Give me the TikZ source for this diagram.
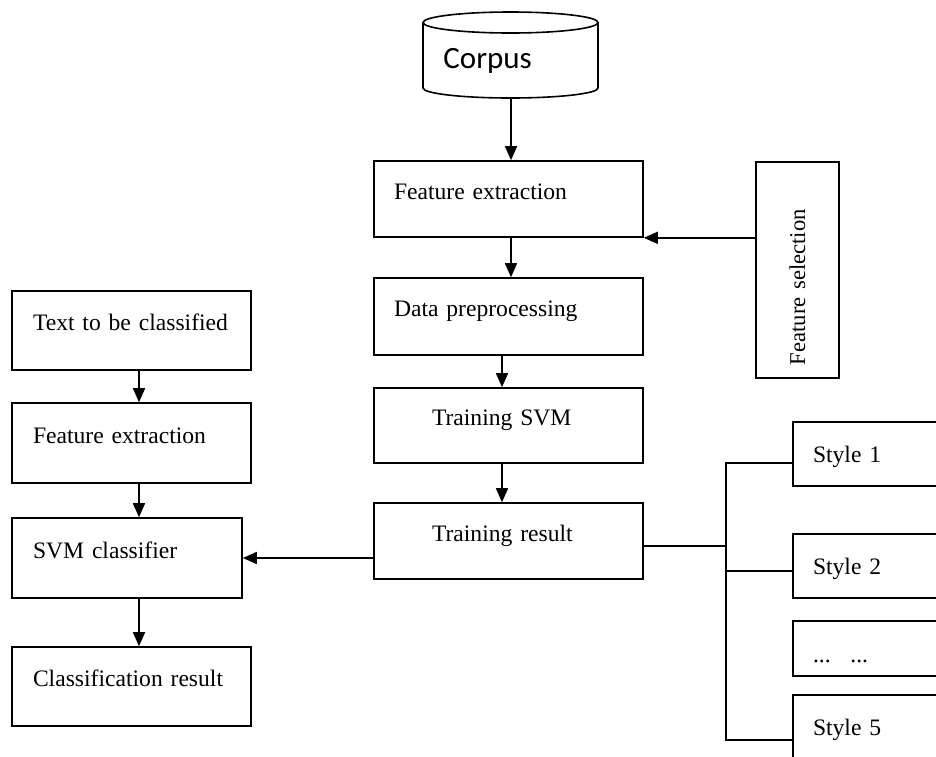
\documentclass[tikz,border=0pt]{standalone}
\usepackage{fontspec}
\setmainfont{Liberation Serif}
\newfontfamily\corpusfont{Carlito}
\usetikzlibrary{positioning,arrows.meta}
\tikzset{
stage/.style = {draw, rectangle, line width=0.8pt, align=left, inner xsep=10pt,
  text height=8pt, text depth=8pt, font=\fontsize{11.8}{14}\selectfont},
stylebox/.style = {stage, minimum height=32pt, text width=75pt,
  text height=12pt, text depth=4pt}, % right part runs off the page
link/.style = {line width=0.6pt},
arr/.style = {-{Triangle[length=7pt,width=6pt]}, line width=0.8pt}
}

\begin{document}
\begin{tikzpicture}[x=0.5pt,y=-0.5pt]
\useasboundingbox (0,0) rectangle (936,756);
\clip (0,0) rectangle (936,756);

% corpus drum
\draw[line width=0.8pt] (510.5,22.5) ellipse [x radius=43.75pt, y radius=5.25pt];
\draw[line width=0.8pt] (423,22.5) -- (423,88)
  arc[start angle=180, end angle=360, x radius=43.75pt, y radius=5pt] -- (598,22.5);
\node[anchor=base west, inner sep=0pt, font=\corpusfont\fontsize{15.5}{18}\selectfont] (corpus) at (443,68) {Corpus};
\coordinate (cylbot) at (511,98);

% training side
\node[stage, text width=114.5pt, minimum height=38pt] (featext) at (508.5,199) {Feature extraction};
\node[stage, text width=114.5pt, minimum height=38.5pt] (preproc) at (508.5,316.5) {Data preprocessing};
\node[stage, inner xsep=29pt, text width=76.5pt, minimum height=37.5pt] (trainsvm) at (508.5,425.5) {Training SVM};
\node[stage, inner xsep=29pt, text width=76.5pt, minimum height=38pt] (trainres) at (508.5,541) {Training result};
\node[stage, rotate=90, inner xsep=6.5pt, text width=95pt, minimum height=41.5pt,
  text height=10pt, text depth=2.5pt, font=\fontsize{11.3}{13}\selectfont] (featsel) at (797.5,270) {Feature selection};

% classifying side
\node[stage, inner xsep=10.5pt, text width=98.5pt, minimum height=39.5pt] (textin) at (131.5,330.5) {Text to be classified};
\node[stage, inner xsep=10.5pt, text width=98.5pt, minimum height=40pt] (clsext) at (131.5,443) {Feature extraction};
\node[stage, inner xsep=10.5pt, text width=94pt, minimum height=40pt] (svmcls) at (127,558) {SVM classifier};
\node[stage, inner xsep=10.5pt, text width=98.5pt, minimum height=39.5pt] (clsres) at (131.5,686.5) {Classification result};

% styles
\node[stylebox] (style1) at (888,454) {Style 1};
\node[stylebox] (style2) at (888,566) {Style 2};
\node[stylebox, minimum height=27.5pt, text height=16pt, text depth=2.5pt] (styledots) at (888,648.5) {... \ ...};
\node[stylebox] (style5) at (888,727) {Style 5};

\coordinate (cc) at (511,0);
\coordinate (cc2) at (502,0);
\coordinate (lc) at (139,0);
\coordinate (bus) at (726,0);

\draw[arr] (cylbot) -- (cylbot |- featext.north);
\draw[arr] (cc |- featext.south) -- (cc |- preproc.north);
\draw[arr] (cc2 |- preproc.south) -- (cc2 |- trainsvm.north);
\draw[arr] (cc2 |- trainsvm.south) -- (cc2 |- trainres.north);
\draw[arr] (featsel.north |- featext.south east) -- (featext.south east);
\draw[arr] (trainres.west |- svmcls.east) -- (svmcls.east);

\draw[arr] (lc |- textin.south) -- (lc |- clsext.north);
\draw[arr] (lc |- clsext.south) -- (lc |- svmcls.north);
\draw[arr] (lc |- svmcls.south) -- (lc |- clsres.north);

% fan out to the styles
\coordinate (t0) at ([yshift=-2.5pt]trainres.east);
\coordinate (t1) at ([yshift=-4.5pt]style1.west);
\coordinate (t2) at ([yshift=-2.5pt]style2.west);
\coordinate (t5) at ([yshift=-6.5pt]style5.west);
\draw[link] (t1) -- (bus |- t1) -- (bus |- t5) -- (t5);
\draw[link] (t0) -- (bus |- t0);
\draw[link] (t2) -- (bus |- t2);
\end{tikzpicture}
\end{document}
